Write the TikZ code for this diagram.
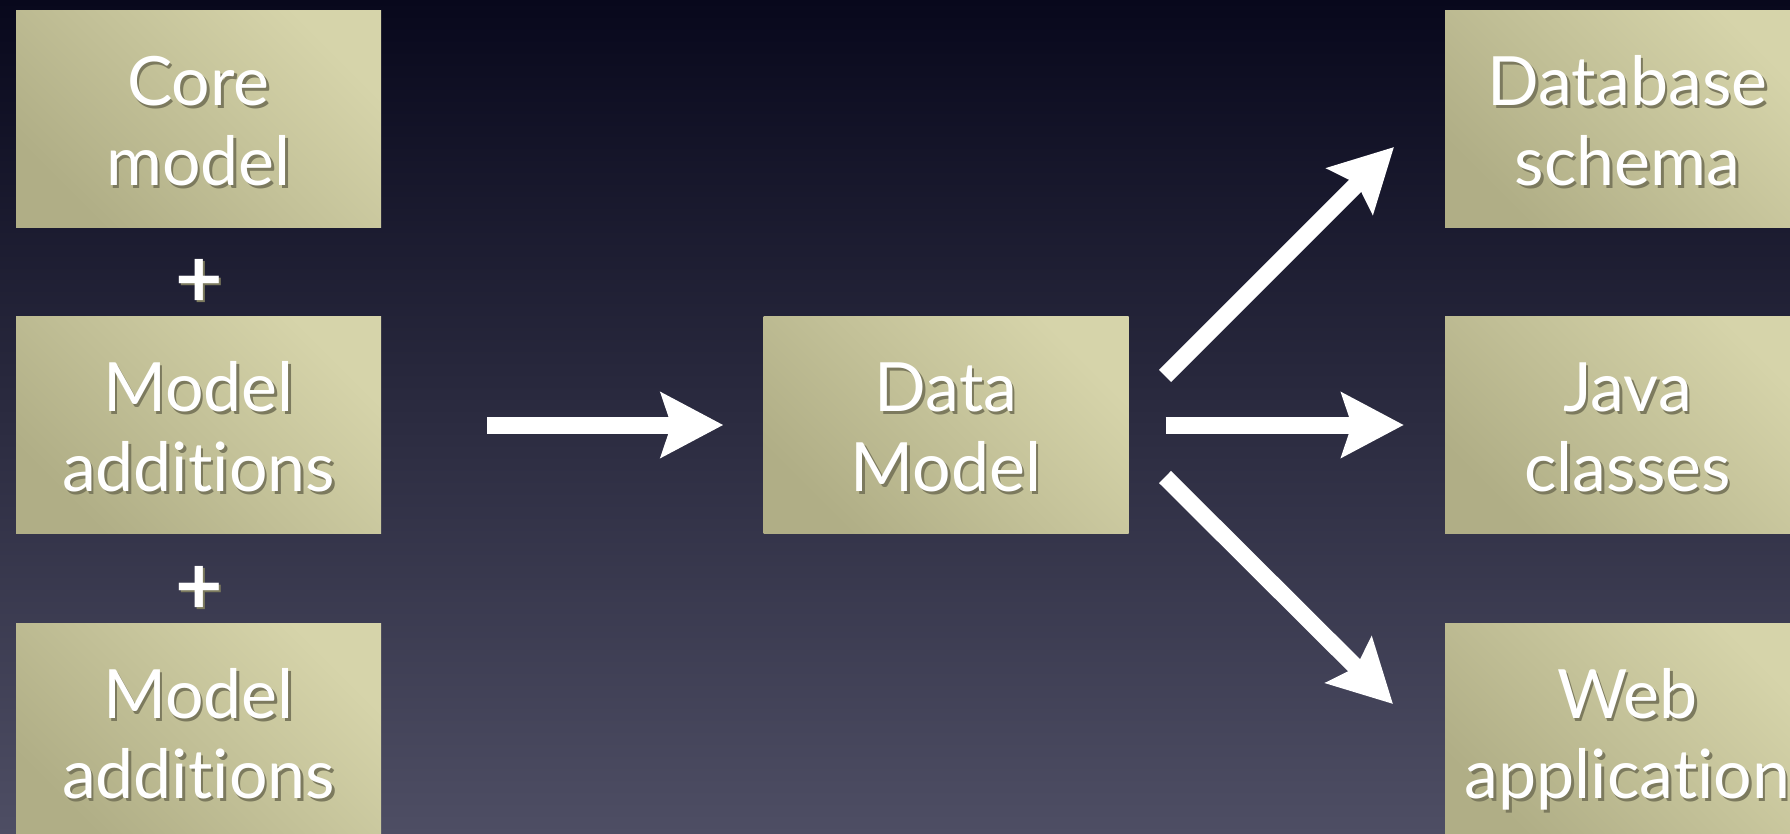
\documentclass[tikz,border=0pt]{standalone}
\usepackage{fontspec}
\setmainfont{Lato}[Ligatures=NoCommon]
\usetikzlibrary{arrows.meta}
\definecolor{bg_top}{RGB}{8, 8, 28}
\definecolor{bg_mid}{RGB}{36, 36, 62}
\definecolor{bg_bot}{RGB}{78, 78, 100}
\definecolor{box_lt}{RGB}{214, 212, 170}
\definecolor{box_dk}{RGB}{176, 174, 134}
\definecolor{txt_sh}{RGB}{124, 122, 94}
\newcommand{\shtxt}[1]{\raisebox{-12pt}[\height][\depth]{%
  \rlap{\kern2.5pt\raisebox{-2.5pt}{\color{txt_sh}%
  \begin{tabular}{@{}c@{}}#1\end{tabular}}}\begin{tabular}{@{}c@{}}#1\end{tabular}}}
\tikzstyle{bx}=[rectangle,inner sep=0pt,minimum width=365pt,minimum height=217pt,
  left color=box_dk,right color=box_lt,shading angle=135,text=white,
  font=\fontsize{68}{80}\selectfont]
\tikzstyle{pls}=[inner sep=0pt,text=white,font=\fontsize{82}{82}\selectfont\bfseries]
\tikzstyle{wa}=[draw=white,line width=17pt,
  -{Stealth[length=62pt,width=64pt,inset=10pt,fill=white]}]

\begin{document}
\begin{tikzpicture}[x=1pt, y=-1pt]
    \useasboundingbox (0, 0) rectangle (1790, 834);
    \clip (0, 0) rectangle (1790, 834);
    \shade [top color=bg_top, middle color=bg_mid, bottom color=bg_bot] (0, 0) rectangle (1790, 834);
    \node [style=bx] (0) at (198.5, 119) {\shtxt{Core\\model}};
    \node [style=bx] (1) at (198.5, 425) {\shtxt{Model\\additions}};
    \node [style=bx] (2) at (198.5, 732) {\shtxt{Model\\additions}};
    \node [style=pls] (3) at (199, 280) {\shtxt{+}};
    \node [style=pls] (4) at (199, 587) {\shtxt{+}};
    \node [style=bx] (5) at (946, 425) {\shtxt{Data\\Model}};
    \node [style=bx] (6) at (1627.5, 119) {\shtxt{Database\\schema}};
    \node [style=bx] (7) at (1627.5, 425) {\shtxt{Java\\classes}};
    \node [style=bx] (8) at (1627.5, 732) {\shtxt{Web\\application}};
    \coordinate (9) at (1165, 376);
    \coordinate (10) at (1394, 147);
    \coordinate (11) at (1165, 477);
    \coordinate (12) at (1393, 704);
    \draw [style=wa, shorten <=106pt, shorten >=40pt] (1) to (5);
    \draw [style=wa, shorten <=37pt, shorten >=41pt] (5) to (7);
    \draw [style=wa] (9) to (10);
    \draw [style=wa] (11) to (12);
\end{tikzpicture}
\end{document}
